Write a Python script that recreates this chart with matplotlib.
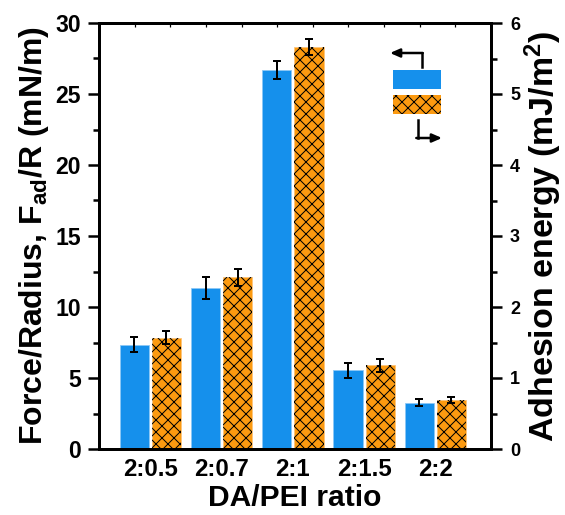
import matplotlib
matplotlib.use("Agg")
import matplotlib.pyplot as plt
from matplotlib.patches import Rectangle, FancyArrowPatch
from matplotlib.ticker import MultipleLocator, FixedLocator
import numpy as np

plt.rcParams['font.family'] = ['Liberation Sans', 'DejaVu Sans']
plt.rcParams['font.weight'] = 'bold'
plt.rcParams['mathtext.fontset'] = 'custom'
plt.rcParams['mathtext.rm'] = 'Liberation Sans:bold'
plt.rcParams['mathtext.default'] = 'rm'
plt.rcParams['hatch.linewidth'] = 1.0

# Data
ratios = ["2:0.5", "2:0.7", "2:1", "2:1.5", "2:2"]
force_radius = [7.35, 11.35, 26.7, 5.55, 3.25]          # mN/m
force_err = [0.55, 0.77, 0.65, 0.52, 0.25]
adhesion_energy = [1.57, 2.42, 5.66, 1.18, 0.69]         # mJ/m^2
energy_err = [0.094, 0.12, 0.11, 0.09, 0.04]

blue = "#1590EC"
orange = "#FC9A10"

fig = plt.figure(figsize=(565 / 72, 515 / 72), dpi=72)
ax = fig.add_axes([99 / 565, 1 - 449 / 515, 392 / 565, 426 / 515])
ax2 = ax.twinx()

x = np.arange(1, len(ratios) + 1)
w = 0.41
off = 0.225

ax.bar(x - off, force_radius, width=w, color=blue, edgecolor="#8cc8f6", linewidth=0.8, zorder=2)
ax.errorbar(x - off, force_radius, yerr=force_err, fmt="none", ecolor="black",
            elinewidth=2, capsize=4, capthick=2, zorder=3)

ax2.bar(x + off, adhesion_energy, width=w, color=orange, edgecolor="#fcc47a", linewidth=0.8, zorder=2)
ax2.bar(x + off, adhesion_energy, width=w, fill=False, hatch="xx", edgecolor="black", linewidth=0, zorder=2)
ax2.errorbar(x + off, adhesion_energy, yerr=energy_err, fmt="none", ecolor="black",
             elinewidth=2, capsize=4, capthick=2, zorder=3)

ax.set_xlim(0.28, 5.78)
ax.set_ylim(0, 30)
ax2.set_ylim(0, 6)

ax.set_xticks(x)
ax.set_xticklabels(ratios, fontsize=24, fontweight="bold")
ax.tick_params(axis="x", which="major", length=0, pad=9)
ax.xaxis.set_minor_locator(FixedLocator(np.arange(0.78, 5.5, 0.5)))
ax.tick_params(axis="x", which="minor", direction="in", length=4, width=1.2, top=True, bottom=True)

ax.yaxis.set_major_locator(MultipleLocator(5))
ax.yaxis.set_minor_locator(MultipleLocator(2.5))
ax.tick_params(axis="y", which="major", direction="out", length=11, width=2.5, labelsize=23, pad=7)
ax.tick_params(axis="y", which="minor", direction="out", length=6, width=2.5)

ax2.yaxis.set_major_locator(MultipleLocator(1))
ax2.yaxis.set_minor_locator(MultipleLocator(0.5))
ax2.tick_params(axis="y", which="major", direction="out", length=11, width=2.5, labelsize=18, pad=8)
ax2.tick_params(axis="y", which="minor", direction="out", length=6, width=2.5)

for a in (ax, ax2):
    for s in a.spines.values():
        s.set_linewidth(3)
    for lab in a.get_yticklabels():
        lab.set_fontweight("bold")

ax.set_xlabel("DA/PEI ratio", fontsize=30, fontweight="bold", labelpad=3)
ax.set_ylabel("Force/Radius, F$_{ad}$/R (mN/m)", fontsize=32, fontweight="bold", labelpad=4)
ax2.set_ylabel("Adhesion energy (mJ/m$^2$)", fontsize=34, fontweight="bold", labelpad=2)

# Legend swatches with arrows pointing to the matching axis
def fx(px):
    return px / 565

def fy(py):
    return 1 - py / 515

fig.patches.append(Rectangle((fx(393), fy(89)), fx(441) - fx(393), fy(70) - fy(89),
                             transform=fig.transFigure, facecolor=blue, edgecolor="none"))
fig.patches.append(Rectangle((fx(393), fy(114)), fx(441) - fx(393), fy(95) - fy(114),
                             transform=fig.transFigure, facecolor=orange, edgecolor="none"))
fig.patches.append(Rectangle((fx(393), fy(114)), fx(441) - fx(393), fy(95) - fy(114),
                             transform=fig.transFigure, fill=False, hatch="xx",
                             edgecolor="black", linewidth=0))

fig.lines.append(plt.Line2D([fx(421.5), fx(421.5)], [fy(67), fy(53)], transform=fig.transFigure,
                            color="black", lw=2.5))
fig.patches.append(FancyArrowPatch((fx(422.7), fy(53)), (fx(390), fy(53)), transform=fig.transFigure,
                                   arrowstyle="-|>,head_length=8,head_width=3.5", color="black",
                                   lw=2.5, shrinkA=0, shrinkB=0))
fig.lines.append(plt.Line2D([fx(417.5), fx(417.5)], [fy(120), fy(138)], transform=fig.transFigure,
                            color="black", lw=2.5))
fig.patches.append(FancyArrowPatch((fx(416.3), fy(138)), (fx(442), fy(138)), transform=fig.transFigure,
                                   arrowstyle="-|>,head_length=8,head_width=3.5", color="black",
                                   lw=2.5, shrinkA=0, shrinkB=0))

fig.savefig("out.png", dpi=72)
